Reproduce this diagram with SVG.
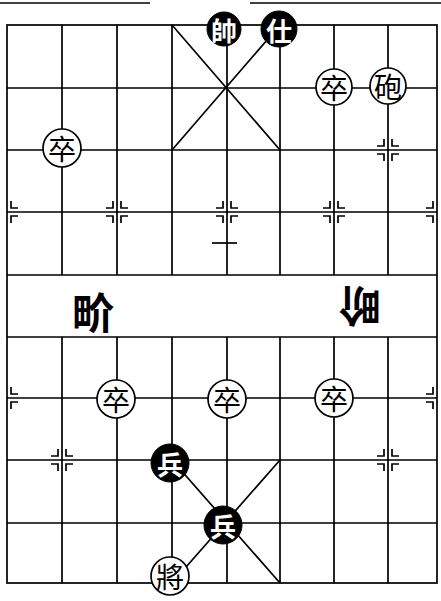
<svg xmlns="http://www.w3.org/2000/svg" xmlns:xlink="http://www.w3.org/1999/xlink" width="441" height="601" viewBox="0 0 441 601">
<defs>
<style>
.ln{stroke:#000;stroke-width:1.7;fill:none}
.mk{stroke:#000;stroke-width:1.7;fill:none}
.wp{fill:#fff;stroke:#000;stroke-width:1.7}
.bp{fill:#000;stroke:#000;stroke-width:1}
.wt{font-family:"Noto Sans CJK TC","Noto Sans CJK SC",sans-serif;font-size:28px;fill:#000;text-anchor:middle;dominant-baseline:central}
.bt{font-family:"Noto Sans CJK TC","Noto Sans CJK SC",sans-serif;font-size:26px;font-weight:bold;fill:#fff;text-anchor:middle;dominant-baseline:central}
.rv{font-family:"Noto Sans CJK TC","Noto Sans CJK SC",sans-serif;font-size:42px;font-weight:bold;fill:#000;text-anchor:middle;dominant-baseline:central}
</style>
<path id="mR" class="mk" d="M4,-11V-4H11M4,11V4H11"/>
<path id="mL" class="mk" d="M-4,-11V-4H-11M-4,11V4H-11"/>
<g id="mF"><use xlink:href="#mR"/><use xlink:href="#mL"/></g>
</defs>
<rect width="441" height="601" fill="#fff"/>
<line class="ln" x1="0" y1="3" x2="150" y2="3" stroke-width="2"/>
<line class="ln" x1="250" y1="3" x2="441" y2="3" stroke-width="2"/>
<g id="board">
<rect class="ln" x="7" y="25" width="430" height="558"/>
<path class="ln" d="M7,88H437M7,150H437M7,212H437M7,275H437M7,337H437M7,398H437M7,460H437M7,523H437"/>
<path class="ln" d="M62,25V275M117,25V275M172,25V275M227,25V275M280,25V275M334,25V275M388,25V275"/>
<path class="ln" d="M62,337V583M117,337V583M172,337V583M227,337V583M280,337V583M334,337V583M388,337V583"/>
<path class="ln" d="M172,25L280,150M280,25L172,150M172,460L280,583M280,460L172,583"/>
<line class="ln" x1="212" y1="243" x2="237" y2="243"/>
</g>
<g id="marks">
<use xlink:href="#mF" x="388" y="150"/>
<use xlink:href="#mF" x="62" y="150"/>
<use xlink:href="#mR" x="7" y="212"/>
<use xlink:href="#mF" x="117" y="212"/>
<use xlink:href="#mF" x="227" y="212"/>
<use xlink:href="#mF" x="334" y="212"/>
<use xlink:href="#mL" x="437" y="212"/>
<use xlink:href="#mR" x="7" y="398"/>
<use xlink:href="#mF" x="117" y="398"/>
<use xlink:href="#mF" x="227" y="398"/>
<use xlink:href="#mF" x="334" y="398"/>
<use xlink:href="#mL" x="437" y="398"/>
<use xlink:href="#mF" x="62" y="460"/>
<use xlink:href="#mF" x="388" y="460"/>
</g>
<g id="river">
<text class="rv" x="93" y="310">畍</text>
<text class="rv" x="360" y="308" transform="rotate(180 360 308)">畍</text>
</g>
<g id="shuai"><circle class="bp" cx="224" cy="29" r="17"/><text class="bt" x="224" y="29">帥</text></g>
<g id="shi"><circle class="bp" cx="279" cy="29" r="18"/><text class="bt" x="279" y="29">仕</text></g>
<g id="zu1"><circle class="wp" cx="334" cy="87" r="18"/><text class="wt" x="334" y="87">卒</text></g>
<g id="pao"><circle class="wp" cx="388" cy="86" r="18"/><text class="wt" x="388" y="86">砲</text></g>
<g id="zu2"><circle class="wp" cx="62" cy="148" r="19"/><text class="wt" x="62" y="148">卒</text></g>
<g id="zu3"><circle class="wp" cx="116" cy="399" r="19"/><text class="wt" x="116" y="399">卒</text></g>
<g id="zu4"><circle class="wp" cx="227" cy="399" r="19"/><text class="wt" x="227" y="399">卒</text></g>
<g id="zu5"><circle class="wp" cx="334" cy="398" r="19"/><text class="wt" x="334" y="398">卒</text></g>
<g id="bing1"><circle class="bp" cx="170" cy="463" r="19"/><text class="bt" x="170" y="463">兵</text></g>
<g id="bing2"><circle class="bp" cx="223" cy="525" r="19"/><text class="bt" x="223" y="525">兵</text></g>
<g id="jiang"><circle class="wp" cx="170" cy="576" r="19"/><text class="wt" x="170" y="576">將</text></g>
</svg>
